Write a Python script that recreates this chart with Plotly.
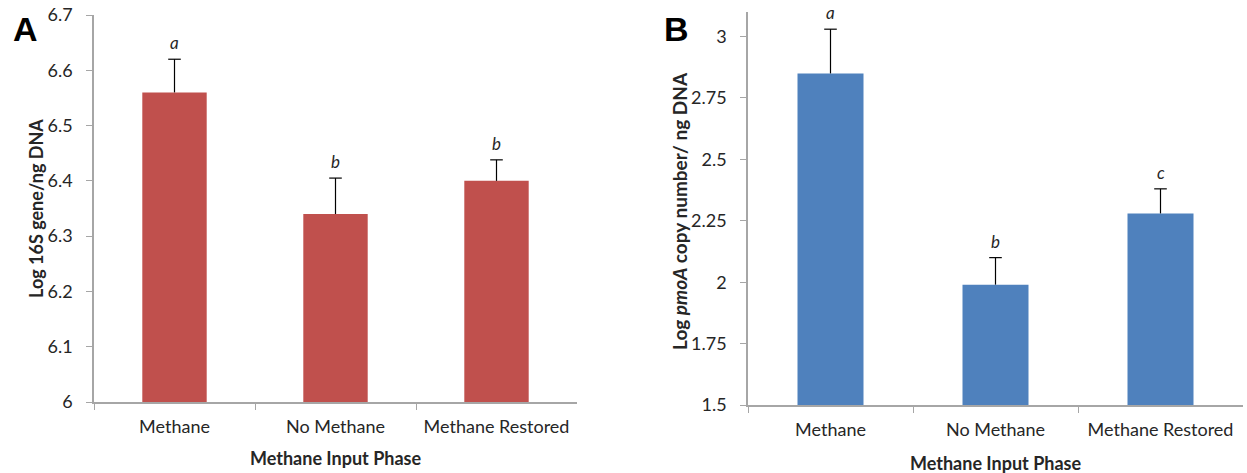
import plotly.graph_objects as go

categories = ["Methane", "No Methane", "Methane Restored"]
a_values = [6.56, 6.34, 6.40]
a_err = [0.06, 0.065, 0.038]
a_letters = ["a", "b", "b"]
b_values = [2.85, 1.99, 2.28]
b_err = [0.18, 0.11, 0.10]
b_letters = ["a", "b", "c"]
a_ticks = [6.0, 6.1, 6.2, 6.3, 6.4, 6.5, 6.6, 6.7]
a_ticktext = ["6", "6.1", "6.2", "6.3", "6.4", "6.5", "6.6", "6.7"]
b_ticks = [1.5, 1.75, 2.0, 2.25, 2.5, 2.75, 3.0]
b_ticktext = ["1.5", "1.75", "2", "2.25", "2.5", "2.75", "3"]

FONT = "Lato"
W, H = 1247, 473
AXC = "#A6A6A6"
TXT = "#262626"

fig = go.Figure()


def add_panel(vals, errs, color, xa, ya):
    fig.add_trace(go.Bar(x=categories, y=vals, width=0.4,
                         marker=dict(color=color, line=dict(width=0)),
                         error_y=dict(type="data", array=errs, arrayminus=[0] * len(errs), symmetric=False,
                                      color="black", thickness=1.2, width=0),
                         xaxis=xa, yaxis=ya, hoverinfo="skip"))
    tops = [v + e for v, e in zip(vals, errs)]
    fig.add_trace(go.Scatter(x=categories, y=tops, mode="markers",
                             marker=dict(symbol="line-ew", size=9, line=dict(color="black", width=1.2)),
                             xaxis=xa, yaxis=ya, hoverinfo="skip"))
    return tops


ax_common = dict(showline=True, linecolor=AXC, linewidth=1.5, ticks="outside", tickcolor=AXC,
                 ticklen=6, tickwidth=1.3, showgrid=False, zeroline=False, automargin=False,
                 tickfont=dict(family=FONT, size=18, color=TXT))

a_tops = add_panel(a_values, a_err, "#C0504D", "x", "y")
b_tops = add_panel(b_values, b_err, "#4F81BD", "x2", "y2")

fig.update_layout(
    width=W, height=H, margin=dict(l=0, r=0, t=0, b=0),
    plot_bgcolor="white", paper_bgcolor="white", showlegend=False,
    xaxis=dict(domain=[94 / W, 577 / W], anchor="y", tickson="boundaries", ticklabelstandoff=8, **ax_common),
    yaxis=dict(domain=[(H - 402) / H, (H - 15) / H], anchor="x", range=[6.0, 6.7],
               tickvals=a_ticks, ticktext=a_ticktext, ticklabelstandoff=10, **ax_common),
    xaxis2=dict(domain=[748 / W, 1243 / W], anchor="y2", tickson="boundaries", ticklabelstandoff=8, **ax_common),
    yaxis2=dict(domain=[(H - 405) / H, (H - 12) / H], anchor="x2", range=[1.5, 3.1],
                tickvals=b_ticks, ticktext=b_ticktext, ticklabelstandoff=10, **ax_common),
)

for cat, t, top in zip(categories, a_letters, a_tops):
    fig.add_annotation(x=cat, y=top, xref="x", yref="y", text=f"<i>{t}</i>", showarrow=False,
                       yanchor="bottom", yshift=4, font=dict(family=FONT, size=17, color=TXT))
for cat, t, top in zip(categories, b_letters, b_tops):
    fig.add_annotation(x=cat, y=top, xref="x2", yref="y2", text=f"<i>{t}</i>", showarrow=False,
                       yanchor="bottom", yshift=4, font=dict(family=FONT, size=17, color=TXT))

title_font = dict(family=FONT, size=18, color=TXT)
# x axis titles
fig.add_annotation(x=(94 + 577) / 2 / W, y=1 - 458 / H, xref="paper", yref="paper",
                   xanchor="center", yanchor="middle",
                   text="<b>Methane Input Phase</b>", showarrow=False, font=title_font)
fig.add_annotation(x=(748 + 1243) / 2 / W, y=1 - 463 / H, xref="paper", yref="paper",
                   xanchor="center", yanchor="middle",
                   text="<b>Methane Input Phase</b>", showarrow=False, font=title_font)
# y axis titles
fig.add_annotation(x=36 / W, y=1 - 209 / H, xref="paper", yref="paper", textangle=-90,
                   xanchor="center", yanchor="middle",
                   text="<b>Log 16S gene/ng DNA</b>", showarrow=False, font=title_font)
fig.add_annotation(x=680 / W, y=1 - 211 / H, xref="paper", yref="paper", textangle=-90,
                   xanchor="center", yanchor="middle",
                   text="<b>Log <i>pmoA</i> copy number/ ng DNA</b>", showarrow=False,
                   font=dict(family=FONT, size=19, color=TXT))

fig.add_annotation(x=11 / W, y=1 - 8 / H, xref="paper", yref="paper", text="<b>A</b>", showarrow=False,
                   xanchor="left", yanchor="top", font=dict(family="Liberation Sans", size=34, color="black"))
fig.add_annotation(x=662 / W, y=1 - 8 / H, xref="paper", yref="paper", text="<b>B</b>", showarrow=False,
                   xanchor="left", yanchor="top", font=dict(family="Liberation Sans", size=34, color="black"))

fig.write_html("out.html")
